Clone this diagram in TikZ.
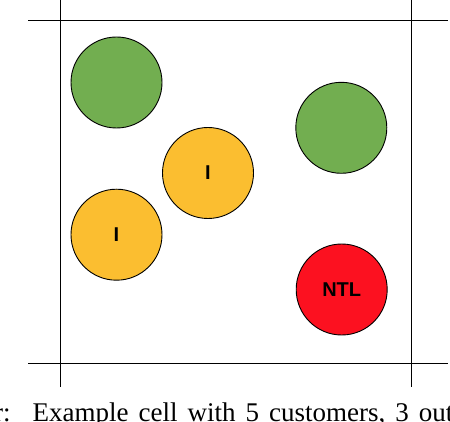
\documentclass[tikz,border=0pt]{standalone}
\usepackage{fontspec}
\setmainfont{Liberation Serif}
\newfontfamily\labelfont{Liberation Sans}
\definecolor{custgreen}{RGB}{114,174,80}
\definecolor{custyellow}{RGB}{251,190,48}
\definecolor{custred}{RGB}{252,17,32}
\tikzset{
  gridline/.style={black, line width=1.2pt},
  customer/.style={circle, draw=black, line width=0.9pt, minimum size=91pt, inner sep=0pt,
    font=\labelfont\bfseries\fontsize{20}{20}\selectfont},
  normal/.style={customer, fill=custgreen},
  irregular/.style={customer, fill=custyellow},
  theft/.style={customer, fill=custred},
}
\begin{document}
\begin{tikzpicture}[x=1pt,y=-1pt]
\useasboundingbox (0,0) rectangle (450,422);
\clip (0,0) rectangle (450,422);
% grid lines
\coordinate (h1a) at (28,20.5);
\coordinate (h1b) at (448,20.5);
\coordinate (h2a) at (28,363.5);
\coordinate (h2b) at (448,363.5);
\coordinate (v1a) at (60,-2);
\coordinate (v1b) at (60,387);
\coordinate (v2a) at (411,-2);
\coordinate (v2b) at (411,387);
\draw[gridline] (h1a) -- (h1b);
\draw[gridline, line width=1.6pt] (h2a) -- (h2b);
\draw[gridline, line width=1pt] (v1a) -- (v1b);
\draw[gridline, line width=1pt] (v2a) -- (v2b);
% customers
\node[normal] (g1) at (116.5,82.5) {};
\node[normal] (g2) at (341.3,127.8) {};
\node[irregular] (y1) at (208,173) {I};
\node[irregular] (y2) at (116.5,234.7) {I};
\node[theft] (r1) at (341.7,289.5) {NTL};
% caption (cut off at the bottom, as in the reference)
\node[anchor=base west, inner sep=0pt, font=\fontsize{27}{27}\selectfont] (cap) at (-6,421)
  {r:\hspace{22pt}Example\hspace{10pt}cell\hspace{10pt}with\hspace{10pt}5\hspace{10pt}customers,\hspace{10pt}3\hspace{10pt}out};
\end{tikzpicture}
\end{document}
